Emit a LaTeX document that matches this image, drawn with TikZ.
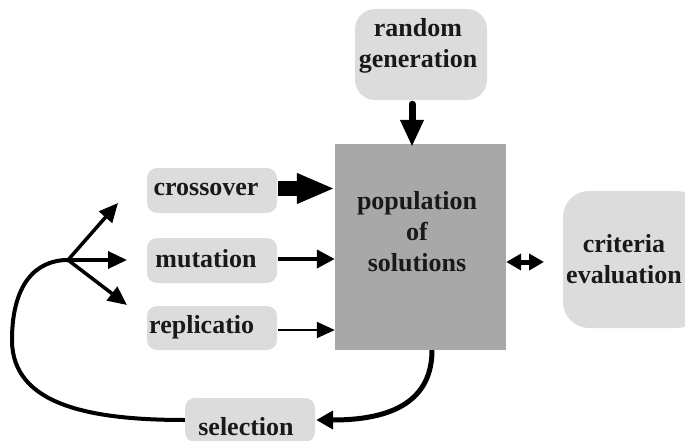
\documentclass[tikz,border=0pt]{standalone}
\usepackage{fontspec}
\setmainfont{Liberation Serif}
\usetikzlibrary{arrows.meta}
\definecolor{popgray}{HTML}{A8A8A8}
\definecolor{boxgray}{HTML}{DCDCDC}
\begin{document}
\begin{tikzpicture}[x=1pt,y=-1pt,
  lightbox/.style={rectangle,rounded corners=#1,fill=boxgray,draw=none,inner sep=0pt},
  lightbox/.default=10pt,
  txt/.style={font=\fontsize{26}{31}\selectfont\bfseries,text=black!90,inner sep=0pt,align=center},
  arr/.style={draw=black}]
\useasboundingbox (0,0) rectangle (685,441);
% boxes
\node[rectangle,fill=popgray,minimum width=171pt,minimum height=206pt,inner sep=0pt] (pop) at (420.5,247) {};
\node[lightbox=20pt,minimum width=132pt,minimum height=91pt] (rand) at (421,54.5) {};
\node[lightbox=26pt,minimum width=140pt,minimum height=137pt] (crit) at (633,259.5) {};
\node[lightbox,minimum width=130pt,minimum height=45pt] (cross) at (212,190.5) {};
\node[lightbox,minimum width=130pt,minimum height=45pt] (mut) at (212,260.5) {};
\node[lightbox,minimum width=130pt,minimum height=44pt] (rep) at (212,328) {};
\node[lightbox,minimum width=130pt,minimum height=44pt] (sel) at (250,420) {};
% texts
\node[txt] (poptxt) at (417,232) {population\\of\\solutions};
\node[txt] (randtxt) at (418,45.5) {random\\generation};
\node[txt] (crittxt) at (624,259) {criteria\\evaluation};
\node[txt,anchor=base] (crosstxt) at (206,195) {crossover};
\node[txt,anchor=base] (muttxt) at (206,267) {mutation};
\node[txt,anchor=base west] (reptxt) at (149,333) {replicatio};
\node[txt,anchor=base] (seltxt) at (246,435) {selection};
% arrows into population
\draw[arr,line width=15pt,-{Triangle[length=38pt,width=28pt]}] ([xshift=1pt,yshift=2pt]cross.east) -- ([yshift=2pt]cross.east -| pop.west);
\draw[arr,line width=4pt,-{Triangle[length=18pt,width=18pt]}] ([xshift=1pt,yshift=1.5pt]mut.east) -- ([yshift=1.5pt]mut.east -| pop.west);
\draw[arr,line width=2pt,-{Triangle[length=18pt,width=16pt]}] ([xshift=1pt,yshift=-2pt]rep.east) -- ([yshift=-2pt]rep.east -| pop.west);
\draw[arr,line width=7pt,line cap=round,-{Triangle[length=27pt,width=22pt]}] ([xshift=-9pt,yshift=-4pt]rand.south) -- ([xshift=-8.5pt,yshift=-3pt]pop.north);
% double arrow to criteria
\coordinate (critend) at (544,262);
\draw[arr,line width=5pt,{Triangle[length=15pt,width=16pt]}-{Triangle[length=15pt,width=16pt]}] ([yshift=-15pt]pop.east) -- (critend);
% selection arrow
\draw[arr,line width=5pt,-{Triangle[length=17pt,width=18pt]}] ([xshift=11.5pt]pop.south) .. controls +(0,60) and +(60,0) .. ([xshift=1pt]sel.east);
% loop back to fork
\coordinate (fork) at (68,260);
\draw[arr,line width=4pt] (sel.west) .. controls (90,420) and (12,405) .. (12,340) .. controls (12,285) and (35,260) .. (fork);
\coordinate (f1) at (118,203);
\coordinate (f2) at (127,260);
\coordinate (f3) at (127,305);
\draw[arr,line width=3.5pt,-{Triangle[length=19pt,width=17pt]}] (fork) -- (f1);
\draw[arr,line width=3.5pt,-{Triangle[length=19pt,width=17pt]}] (fork) -- (f2);
\draw[arr,line width=3.5pt,-{Triangle[length=19pt,width=17pt]}] (fork) -- (f3);
\end{tikzpicture}
\end{document}
